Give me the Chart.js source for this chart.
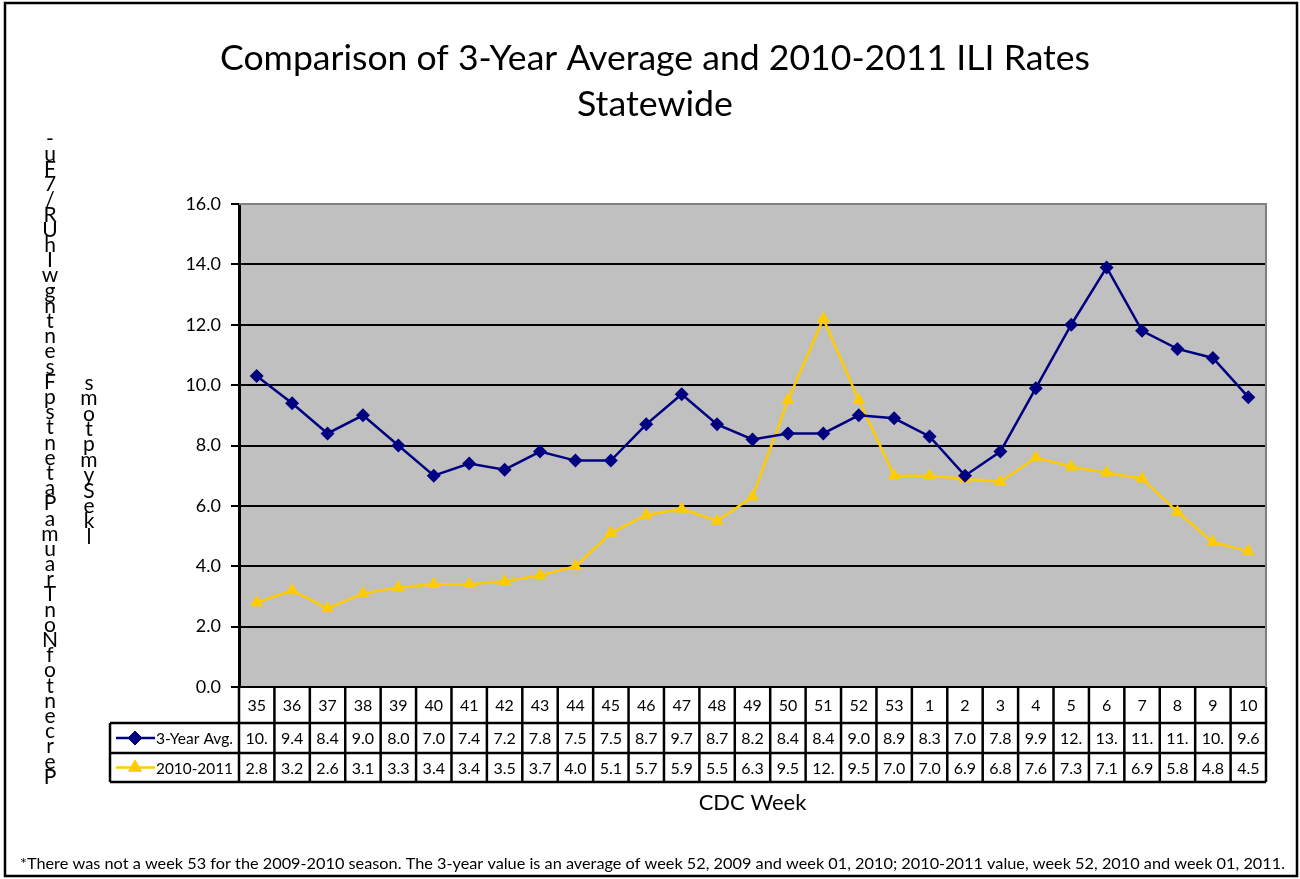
<!DOCTYPE html>
<html>
<head>
<meta charset="utf-8">
<title>ILI Rates Statewide</title>
<script src="https://cdn.jsdelivr.net/npm/chart.js@4/dist/chart.umd.min.js"></script>
<style>
  html, body { margin: 0; padding: 0; background: #fff; }
  #wrap { width: 1300px; height: 879px; position: relative; }
</style>
</head>
<body>
<div id="wrap"><canvas id="ili" width="1300" height="879"></canvas></div>
<script>
// ---- data ----
const weeks = ['35', '36', '37', '38', '39', '40', '41', '42', '43', '44', '45', '46', '47', '48', '49',
  '50', '51', '52', '53', '1', '2', '3', '4', '5', '6', '7', '8', '9', '10'];
const avg3yr = [10.3, 9.4, 8.4, 9.0, 8.0, 7.0, 7.4, 7.2, 7.8, 7.5, 7.5, 8.7, 9.7, 8.7, 8.2,
  8.4, 8.4, 9.0, 8.9, 8.3, 7.0, 7.8, 9.9, 12.0, 13.9, 11.8, 11.2, 10.9, 9.6];
const season1011 = [2.8, 3.2, 2.6, 3.1, 3.3, 3.4, 3.4, 3.5, 3.7, 4.0, 5.1, 5.7, 5.9, 5.5, 6.3,
  9.5, 12.2, 9.5, 7.0, 7.0, 6.9, 6.8, 7.6, 7.3, 7.1, 6.9, 5.8, 4.8, 4.5];
const seriesNames = ['3-Year Avg.', '2010-2011'];
const yTicks = { min: 0, max: 16, step: 2 };

const titleLines = ['Comparison of 3-Year Average and 2010-2011 ILI Rates', 'Statewide'];
const xTitle = 'CDC Week';
// the y title comes out scrambled in the original, one glyph per row
const yTitleCol1 = '-uF7/RUhIwgntnesFpstnetaPamuarTnoNfotnecreP';
const yTitleCol2 = 'smotpmySekl';
const footnote = '*There was not a week 53 for the 2009-2010 season. The 3-year value is an average of week 52, 2009 and week 01, 2010; 2010-2011 value, week 52, 2010 and week 01, 2011.';

const NAVY = '#000080';
const GOLD = '#FFCC00';
const FONT = "Lato, 'Open Sans', sans-serif";

// cell text as Excel shows it: narrow cells cut "10.3" to "10."
function cellText(v) {
  let s = v.toFixed(1);
  return s.length > 3 ? s.slice(0, 3) : s;
}

// fill text squeezed/stretched to a given width
function fitText(ctx, text, cx, y, width, align) {
  const w = ctx.measureText(text).width;
  const k = width / w;
  ctx.save();
  ctx.translate(align === 'left' ? cx : cx - width / 2, y);
  ctx.scale(k, 1);
  ctx.textAlign = 'left';
  ctx.fillText(text, 0, 0);
  ctx.restore();
}

function drawMarker(ctx, style, x, y, color) {
  ctx.fillStyle = color;
  ctx.strokeStyle = color;
  ctx.lineWidth = 1;
  Chart.helpers.drawPoint(ctx, { pointStyle: style, radius: style === 'triangle' ? 7.5 : 7, rotation: 0, borderWidth: 1 }, x, y);
}

const plotBackground = {
  id: 'plotBackground',
  beforeDraw(chart) {
    const { ctx, chartArea: a } = chart;
    ctx.save();
    ctx.fillStyle = '#fff';
    ctx.fillRect(0, 0, chart.width, chart.height);
    ctx.fillStyle = '#C0C0C0';
    ctx.fillRect(a.left, a.top, a.right - a.left, a.bottom - a.top);
    ctx.restore();
  },
  beforeDatasetsDraw(chart) {
    const { ctx, chartArea: a } = chart;
    ctx.save();
    ctx.strokeStyle = '#808080';
    ctx.lineWidth = 2;
    ctx.beginPath();
    ctx.moveTo(a.left, a.top);
    ctx.lineTo(a.right, a.top);
    ctx.lineTo(a.right, a.bottom);
    ctx.stroke();
    ctx.restore();
  }
};

const dataTable = {
  id: 'dataTable',
  afterDraw(chart) {
    const { ctx, chartArea: a } = chart;
    const xs = chart.scales.x;
    const n = weeks.length;
    const colW = (a.right - a.left) / n;
    const rowTop = a.bottom, r1 = a.bottom + 36, r2 = r1 + 30, r3 = r2 + 29;
    const headLeft = 110;

    ctx.save();
    ctx.strokeStyle = '#000';
    ctx.lineWidth = 2.5;
    ctx.beginPath();
    [r1, r2, r3].forEach(y => { ctx.moveTo(headLeft, y); ctx.lineTo(a.right, y); });
    for (let i = 0; i <= n; i++) {
      const x = a.left + i * colW;
      ctx.moveTo(x, rowTop); ctx.lineTo(x, r3);
    }
    ctx.moveTo(headLeft, r1); ctx.lineTo(headLeft, r3);
    ctx.stroke();

    ctx.fillStyle = '#000';
    ctx.font = '16px ' + FONT;
    ctx.textAlign = 'center';
    ctx.textBaseline = 'middle';
    weeks.forEach((w, i) => {
      const x = xs.getPixelForValue(i);
      ctx.fillText(w, x, (rowTop + r1) / 2 + 1);
      ctx.fillText(cellText(avg3yr[i]), x, (r1 + r2) / 2 + 1);
      ctx.fillText(cellText(season1011[i]), x, (r2 + r3) / 2 + 1);
    });

    // legend keys in the row headers
    const keys = [[NAVY, 'rectRot', (r1 + r2) / 2], [GOLD, 'triangle', (r2 + r3) / 2]];
    keys.forEach(([c, style, y], k) => {
      ctx.strokeStyle = c;
      ctx.lineWidth = 2.5;
      ctx.beginPath();
      ctx.moveTo(116, y); ctx.lineTo(155, y);
      ctx.stroke();
      drawMarker(ctx, style, 135, y, c);
      ctx.fillStyle = '#000';
      ctx.textAlign = 'left';
      fitText(ctx, seriesNames[k], 156, y + 1, 77, 'left');
    });
    ctx.restore();
  }
};

const frameAndText = {
  id: 'frameAndText',
  afterDraw(chart) {
    const { ctx, chartArea: a } = chart;
    ctx.save();
    ctx.strokeStyle = '#000';
    ctx.lineWidth = 2.5;
    ctx.strokeRect(5, 3, 1292, 873);

    ctx.fillStyle = '#000';
    ctx.textBaseline = 'alphabetic';
    ctx.font = '35px ' + FONT;
    fitText(ctx, titleLines[0], 655, 70, 870);
    fitText(ctx, titleLines[1], 655, 116, 156);

    ctx.font = '22px ' + FONT;
    ctx.textAlign = 'center';
    ctx.fillText(xTitle, (a.left + a.right) / 2, 810);

    ctx.font = '15px ' + FONT;
    fitText(ctx, footnote, 20, 869, 1265, 'left');

    // scrambled y title, glyph by glyph
    ctx.font = '21px ' + FONT;
    ctx.textAlign = 'center';
    ctx.textBaseline = 'middle';
    const step1 = (777 - 139) / (yTitleCol1.length - 1);
    [...yTitleCol1].forEach((ch, i) => ctx.fillText(ch, 50, 139 + i * step1));
    const step2 = (537 - 383) / (yTitleCol2.length - 1);
    [...yTitleCol2].forEach((ch, i) => ctx.fillText(ch, 89, 383 + i * step2));
    ctx.restore();
  }
};

const ctx = document.getElementById('ili');
new Chart(ctx, {
  type: 'line',
  data: {
    labels: weeks,
    datasets: [{
      label: seriesNames[0],
      data: avg3yr,
      borderColor: NAVY,
      backgroundColor: NAVY,
      borderWidth: 2.5,
      pointStyle: 'rectRot',
      pointRadius: 7,
      pointBorderWidth: 0,
      tension: 0
    }, {
      label: seriesNames[1],
      data: season1011,
      borderColor: GOLD,
      backgroundColor: GOLD,
      borderWidth: 2.5,
      pointStyle: 'triangle',
      pointRadius: 7.5,
      pointBorderWidth: 0,
      tension: 0
    }]
  },
  options: {
    responsive: false,
    animation: false,
    events: [],
    layout: { padding: { left: 0, right: 34, top: 204, bottom: 192 } },
    plugins: {
      legend: { display: false },
      title: { display: false },
      tooltip: { enabled: false }
    },
    scales: {
      x: {
        display: false,
        offset: true
      },
      y: {
        min: yTicks.min,
        max: yTicks.max,
        afterFit: s => { s.width = 239; },
        ticks: {
          stepSize: yTicks.step,
          padding: 10,
          color: '#000',
          font: { family: FONT, size: 18 },
          callback: v => v.toFixed(1)
        },
        grid: {
          color: c => (c.tick && c.tick.value === yTicks.max) ? '#808080' : '#000',
          lineWidth: 2,
          tickColor: '#000',
          tickLength: 8
        },
        border: { color: '#000', width: 3 }
      }
    }
  },
  plugins: [plotBackground, dataTable, frameAndText]
});
</script>
</body>
</html>
